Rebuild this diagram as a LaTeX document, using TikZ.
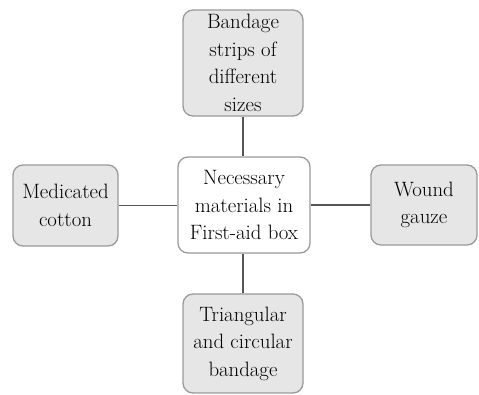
\documentclass[tikz,border=0pt]{standalone}
\definecolor{boxfill}{HTML}{E6E6E6}
\definecolor{boxdraw}{HTML}{9A9A9A}
\definecolor{linkcol}{HTML}{555555}
\begin{document}
\begin{tikzpicture}[x=1pt,y=-1pt,
  item/.style={draw=boxdraw, line width=1.3pt, fill=boxfill, rounded corners=10pt,
    align=center, inner sep=0pt, text=black,
    font=\fontsize{20.8}{27.5}\selectfont},
  hub/.style={item, fill=white},
  link/.style={draw=linkcol, line width=1.4pt}]
\useasboundingbox (0,0) rectangle (479,394);
\node[hub, minimum width=132pt, minimum height=96pt] (c) at (244,205) {Necessary\\materials in\\First-aid box};
\node[item, minimum width=120pt, minimum height=106pt] (t) at (243,63) {Bandage\\strips of\\different\\sizes};
\node[item, minimum width=105pt, minimum height=81pt] (l) at (65.5,205.5) {Medicated\\cotton};
\node[item, minimum width=106pt, minimum height=80pt] (r) at (424,205) {Wound\\gauze};
\node[item, minimum width=120pt, minimum height=99pt] (b) at (243,343.5) {Triangular\\and circular\\bandage};
\draw[link] (t.south) -- (t.south |- c.north);
\draw[link] (b.north) -- (b.north |- c.south);
\draw[link] (l.east) -- (l.east -| c.west);
\draw[link] (r.west) -- (r.west -| c.east);
\end{tikzpicture}
\end{document}
